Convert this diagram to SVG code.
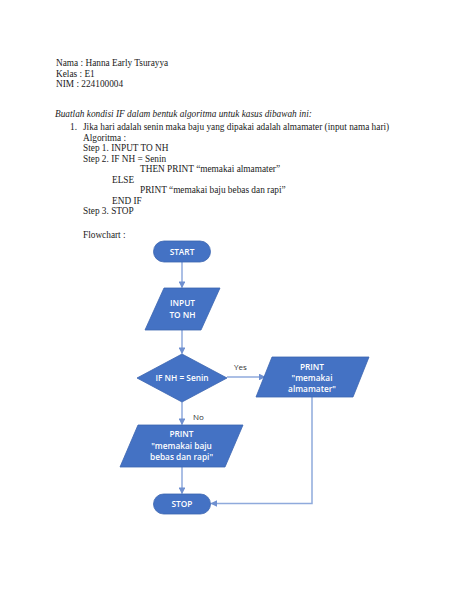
<svg xmlns="http://www.w3.org/2000/svg" width="474" height="613" viewBox="0 0 474 613">
<style>
.doc{font-family:"Liberation Serif","Times New Roman",serif;font-size:9.3px;fill:#1a1a1a}
.it{font-style:italic}
.shape{fill:#4472C4;stroke:#3B64B0;stroke-width:0.8}
.lbl{font-family:"Open Sans","Noto Sans",sans-serif;font-size:8.3px;font-weight:600;fill:#ffffff;text-anchor:middle}
.edge{font-family:"Open Sans","Noto Sans",sans-serif;font-size:8px;fill:#333333}
.conn{fill:none;stroke:#8FAADC;stroke-width:1.5}
</style>
<defs>
<marker id="ah" viewBox="0 0 10 10" refX="9" refY="5" markerWidth="4.5" markerHeight="4.5" orient="auto" markerUnits="strokeWidth">
<path d="M0,0 L10,5 L0,10 z" fill="#6F90D0"/>
</marker>
</defs>
<rect width="474" height="613" fill="#ffffff"/>
<g id="header">
<text class="doc" x="56" y="66">Nama : Hanna Early Tsurayya</text>
<text class="doc" x="56" y="76.5">Kelas : E1</text>
<text class="doc" x="56" y="87">NIM : 224100004</text>
<text class="doc it" x="55" y="117">Buatlah kondisi IF dalam bentuk algoritma untuk kasus dibawah ini:</text>
<text class="doc" x="70" y="130">1.</text>
<text class="doc" x="83" y="130">Jika hari adalah senin maka baju yang dipakai adalah almamater (input nama hari)</text>
<text class="doc" x="83" y="140.5">Algoritma :</text>
<text class="doc" x="83" y="151">Step 1. INPUT TO NH</text>
<text class="doc" x="83" y="161.5">Step 2. IF NH = Senin</text>
<text class="doc" x="140" y="172">THEN PRINT “memakai almamater”</text>
<text class="doc" x="112" y="182.5">ELSE</text>
<text class="doc" x="140" y="193">PRINT “memakai baju bebas dan rapi”</text>
<text class="doc" x="112" y="203.5">END IF</text>
<text class="doc" x="83" y="214">Step 3. STOP</text>
<text class="doc" x="83" y="238">Flowchart :</text>
</g>
<g id="connectors">
<line class="conn" x1="182" y1="262" x2="182" y2="287.5" marker-end="url(#ah)"/>
<line class="conn" x1="182" y1="330" x2="182" y2="353.5" marker-end="url(#ah)"/>
<line class="conn" x1="227" y1="377" x2="265" y2="377" marker-end="url(#ah)"/>
<line class="conn" x1="182" y1="402" x2="182" y2="424.5" marker-end="url(#ah)"/>
<line class="conn" x1="182" y1="467" x2="182" y2="493.5" marker-end="url(#ah)"/>
<polyline class="conn" points="312,397 312,503.5 211,503.5" marker-end="url(#ah)"/>
<text class="edge" x="234" y="370">Yes</text>
<text class="edge" x="193" y="420">No</text>
</g>
<g id="start">
<rect class="shape" x="153.5" y="241" width="57" height="21" rx="10.5"/>
<text class="lbl" x="182" y="254.5">START</text>
</g>
<g id="input">
<polygon class="shape" points="164,288 220,288 201,330 145,330"/>
<text class="lbl" x="182.5" y="306">INPUT</text>
<text class="lbl" x="182.5" y="318">TO NH</text>
</g>
<g id="decision">
<polygon class="shape" points="182,354 227,378 182,402 137,378"/>
<text class="lbl" x="182" y="381">IF NH = Senin</text>
</g>
<g id="print-yes">
<polygon class="shape" points="272,357 369,357 353,397 256,397"/>
<text class="lbl" x="312" y="369.5">PRINT</text>
<text class="lbl" x="312" y="380.5">"memakai</text>
<text class="lbl" x="312" y="392">almamater"</text>
</g>
<g id="print-no">
<polygon class="shape" points="138,425 243,425 225,467 120,467"/>
<text class="lbl" x="181.5" y="437">PRINT</text>
<text class="lbl" x="181.5" y="448.5">"memakai baju</text>
<text class="lbl" x="181.5" y="460">bebas dan rapi"</text>
</g>
<g id="stop">
<rect class="shape" x="153.5" y="494" width="57" height="20" rx="10"/>
<text class="lbl" x="182" y="507">STOP</text>
</g>
</svg>
